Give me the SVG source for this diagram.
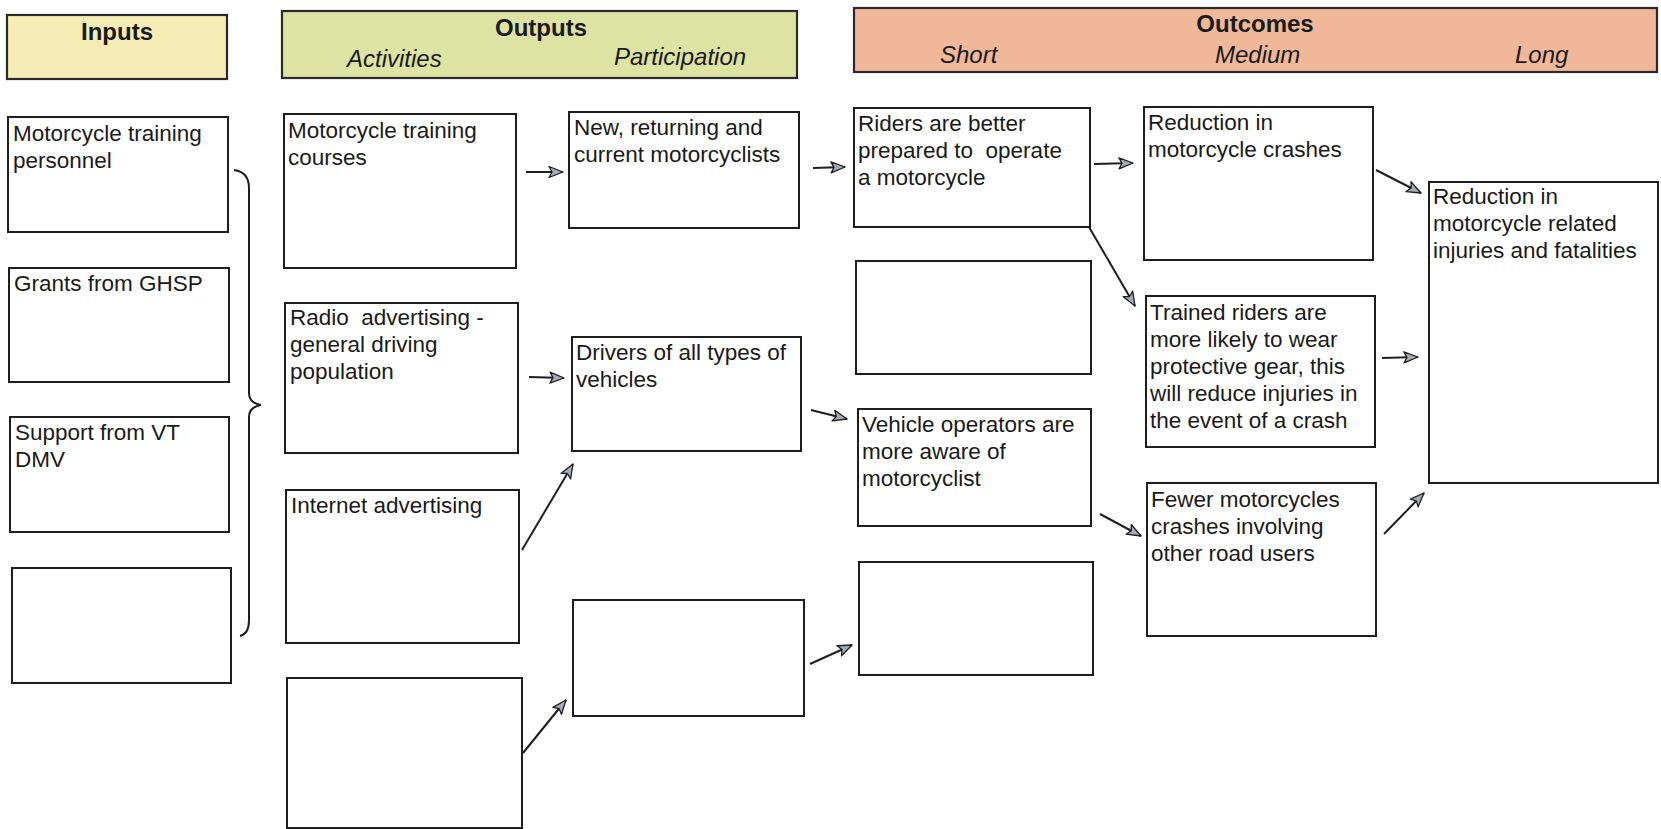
<svg xmlns="http://www.w3.org/2000/svg" width="1661" height="829" viewBox="0 0 1661 829">
<style>
.box{fill:#ffffff;stroke:#1e1e1e;stroke-width:2}
.hdr{stroke:#2a2a2a;stroke-width:2.2}
.t{font-family:"Liberation Sans",Arial,sans-serif;font-size:22.5px;fill:#1a1a1a;white-space:pre}
.hb{font-family:"Liberation Sans",Arial,sans-serif;font-size:24px;font-weight:bold;fill:#1a1a1a}
.hi{font-family:"Liberation Sans",Arial,sans-serif;font-size:24px;font-style:italic;fill:#1a1a1a}
.c{stroke:#1e1e1e;stroke-width:2;fill:none;marker-end:url(#ah)}
</style>
<defs>
<marker id="ah" markerUnits="userSpaceOnUse" markerWidth="18" markerHeight="14" refX="15" refY="7" orient="auto">
<path d="M1,1.5 L15,7 L1,12.5 L4,7 Z" fill="#a4acba" stroke="#1e1e1e" stroke-width="1.3" stroke-linejoin="round"/>
</marker>
</defs>
<rect width="1661" height="829" fill="#ffffff"/>

<g id="hdr-inputs">
<rect class="hdr" x="7" y="15" width="220" height="64" fill="#f5edb5"/>
<text class="hb" x="117" y="40" text-anchor="middle">Inputs</text>
</g>
<g id="hdr-outputs">
<rect class="hdr" x="282" y="11" width="515" height="67" fill="#dde3a3"/>
<text class="hb" x="541" y="36" text-anchor="middle">Outputs</text>
<text class="hi" x="347" y="67">Activities</text>
<text class="hi" x="614" y="65">Participation</text>
</g>
<g id="hdr-outcomes">
<rect class="hdr" x="854" y="8" width="803" height="64" fill="#f0b899"/>
<text class="hb" x="1255" y="32" text-anchor="middle">Outcomes</text>
<text class="hi" x="940" y="63">Short</text>
<text class="hi" x="1215" y="63">Medium</text>
<text class="hi" x="1515" y="63">Long</text>
</g>

<g id="in1"><rect class="box" x="8" y="117" width="220" height="115"/>
<text class="t" x="13" y="141">Motorcycle training<tspan x="13" y="168">personnel</tspan></text></g>
<g id="in2"><rect class="box" x="9" y="268" width="220" height="114"/>
<text class="t" x="14" y="291">Grants from GHSP</text></g>
<g id="in3"><rect class="box" x="10" y="417" width="219" height="115"/>
<text class="t" x="15" y="440">Support from VT<tspan x="15" y="467">DMV</tspan></text></g>
<g id="in4"><rect class="box" x="12" y="568" width="219" height="115"/></g>

<g id="brace">
<path d="M234,170 Q249,172 249,188 L249,393 Q249,403 261,405 Q249,407 249,417 L249,620 Q249,634 240,636" fill="none" stroke="#1e1e1e" stroke-width="2"/>
</g>

<g id="act1"><rect class="box" x="284" y="114" width="232" height="154"/>
<text class="t" x="288" y="138">Motorcycle training<tspan x="288" y="165">courses</tspan></text></g>
<g id="act2"><rect class="box" x="285" y="303" width="233" height="150"/>
<text class="t" x="290" y="325">Radio  advertising -<tspan x="290" y="352">general driving</tspan><tspan x="290" y="379">population</tspan></text></g>
<g id="act3"><rect class="box" x="286" y="490" width="233" height="153"/>
<text class="t" x="291" y="513">Internet advertising</text></g>
<g id="act4"><rect class="box" x="287" y="678" width="235" height="150"/></g>

<g id="par1"><rect class="box" x="569" y="112" width="230" height="116"/>
<text class="t" x="574" y="135">New, returning and<tspan x="574" y="162">current motorcyclists</tspan></text></g>
<g id="par2"><rect class="box" x="572" y="337" width="229" height="114"/>
<text class="t" x="576" y="360">Drivers of all types of<tspan x="576" y="387">vehicles</tspan></text></g>
<g id="par3"><rect class="box" x="573" y="600" width="231" height="116"/></g>

<g id="sh1"><rect class="box" x="854" y="108" width="236" height="119"/>
<text class="t" x="858" y="131">Riders are better<tspan x="858" y="158">prepared to  operate</tspan><tspan x="858" y="185">a motorcycle</tspan></text></g>
<g id="sh2"><rect class="box" x="856" y="261" width="235" height="113"/></g>
<g id="sh3"><rect class="box" x="858" y="409" width="233" height="117"/>
<text class="t" x="862" y="432">Vehicle operators are<tspan x="862" y="459">more aware of</tspan><tspan x="862" y="486">motorcyclist</tspan></text></g>
<g id="sh4"><rect class="box" x="859" y="562" width="234" height="113"/></g>

<g id="md1"><rect class="box" x="1144" y="107" width="229" height="153"/>
<text class="t" x="1148" y="130">Reduction in<tspan x="1148" y="157">motorcycle crashes</tspan></text></g>
<g id="md2"><rect class="box" x="1146" y="296" width="229" height="151"/>
<text class="t" x="1150" y="320">Trained riders are<tspan x="1150" y="347">more likely to wear</tspan><tspan x="1150" y="374">protective gear, this</tspan><tspan x="1150" y="401">will reduce injuries in</tspan><tspan x="1150" y="428">the event of a crash</tspan></text></g>
<g id="md3"><rect class="box" x="1147" y="483" width="229" height="153"/>
<text class="t" x="1151" y="507">Fewer motorcycles<tspan x="1151" y="534">crashes involving</tspan><tspan x="1151" y="561">other road users</tspan></text></g>

<g id="lg1"><rect class="box" x="1429" y="182" width="229" height="301"/>
<text class="t" x="1433" y="204">Reduction in<tspan x="1433" y="231">motorcycle related</tspan><tspan x="1433" y="258">injuries and fatalities</tspan></text></g>

<g id="connectors">
<line class="c" x1="526" y1="172" x2="563" y2="172"/>
<line class="c" x1="813" y1="168" x2="845" y2="167"/>
<line class="c" x1="1094" y1="164" x2="1133" y2="163"/>
<line class="c" x1="1089" y1="227" x2="1135" y2="306"/>
<line class="c" x1="1376" y1="170" x2="1421" y2="193"/>
<line class="c" x1="1382" y1="358" x2="1418" y2="357"/>
<line class="c" x1="1384" y1="534" x2="1424" y2="493"/>
<line class="c" x1="1100" y1="514" x2="1141" y2="536"/>
<line class="c" x1="529" y1="377" x2="564" y2="378"/>
<line class="c" x1="522" y1="550" x2="573" y2="464"/>
<line class="c" x1="811" y1="410" x2="847" y2="419"/>
<line class="c" x1="523" y1="753" x2="566" y2="700"/>
<line class="c" x1="810" y1="664" x2="852" y2="645"/>
</g>
</svg>
